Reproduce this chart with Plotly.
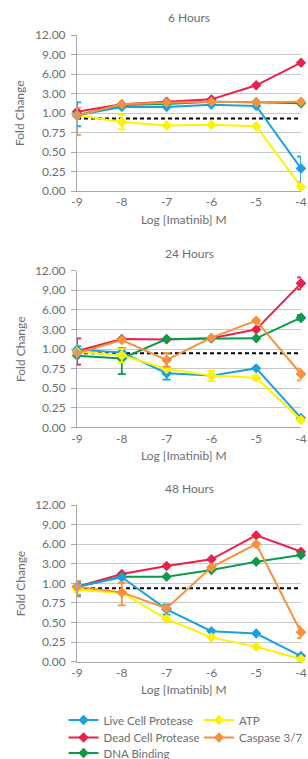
import numpy as np
import plotly.graph_objects as go

# ---------------- data ----------------
doses = [-9, -8, -7, -6, -5, -4]
panel_titles = ["6 Hours", "24 Hours", "48 Hours"]
series_names = ["Live Cell Protease", "Dead Cell Protease", "DNA Binding", "ATP", "Caspase 3/7"]
series_colors = ["#1ba1dd", "#e8204a", "#0e9a48", "#fff200", "#f7913d"]

tick_values = [0, 0.25, 0.5, 0.75, 1, 3, 6, 9, 12]
tick_labels = ["0.00", "0.25", "0.50", "0.75", "1.00", "3.00", "6.00", "9.00", "12.00"]

# 6 hours
h6_live = [0.97, 1.62, 1.62, 1.85, 1.72, 0.29]
h6_dead = [1.14, 1.89, 2.16, 2.40, 4.26, 7.74]
h6_dna = [0.97, 1.82, 1.92, 2.16, 2.10, 2.00]
h6_atp = [0.97, 0.885, 0.84, 0.85, 0.83, 0.055]
h6_casp = [0.965, 1.89, 2.06, 2.16, 2.10, 2.16]
h6_live_lo = [0.83, None, None, None, None, 0.11]
h6_live_hi = [2.10, None, None, None, None, 0.44]
h6_atp_lo = [None, 0.79, None, None, None, None]
h6_atp_hi = [None, 0.975, None, None, None, None]
h6_casp_lo = [0.72, None, None, None, None, None]
h6_casp_hi = [1.52, None, None, None, None, None]

# 24 hours
h24_live = [0.99, 0.957, 0.69, 0.66, 0.753, 0.12]
h24_dead = [0.975, 2.02, 1.98, 2.09, 3.0, 10.06]
h24_dna = [0.915, 0.88, 2.02, 2.09, 2.09, 4.8]
h24_atp = [0.966, 0.92, 0.745, 0.66, 0.634, 0.094]
h24_casp = [0.945, 1.92, 0.86, 2.16, 4.35, 0.68]
h24_live_lo = [0.91, 0.88, 0.61, None, None, None]
h24_live_hi = [1.30, 1.06, 0.753, None, None, None]
h24_dead_lo = [0.80, None, None, None, None, 9.19]
h24_dead_hi = [2.09, None, None, None, None, 10.97]
h24_dna_lo = [None, 0.68, None, None, None, 4.45]
h24_dna_hi = [None, 1.06, None, None, None, 5.2]
h24_atp_lo = [None, 0.83, None, 0.59, None, None]
h24_atp_hi = [None, 1.02, None, 0.72, None, None]
h24_casp_lo = [None, None, 0.775, None, None, 0.60]
h24_casp_hi = [None, None, 0.95, None, None, 0.75]

# 48 hours
h48_live = [0.957, 1.62, 0.668, 0.39, 0.36, 0.072]
h48_dead = [0.957, 1.95, 2.77, 3.68, 7.35, 4.85]
h48_dna = [0.957, 1.68, 1.68, 2.36, 3.3, 4.35]
h48_atp = [0.915, 0.88, 0.545, 0.31, 0.19, 0.034]
h48_casp = [0.957, 0.885, 0.68, 2.64, 6.03, 0.375]
h48_live_lo = [0.85, None, 0.60, None, None, None]
h48_live_hi = [1.05, None, 0.73, None, None, None]
h48_casp_lo = [0.83, 0.72, None, None, None, 0.30]
h48_casp_hi = [1.24, 1.06, None, None, None, 0.45]

baselines = [0.93, 0.945, 0.936]

# ---------------- helpers ----------------
tick_pos = list(range(len(tick_values)))


def to_axis(v):
    """Map fold-change values onto the chart's piecewise (equal-spaced tick) scale."""
    return np.interp(np.asarray(v, dtype=float), tick_values, tick_pos)


panels = [
    ([h6_live, h6_dead, h6_dna, h6_atp, h6_casp],
     [(h6_live_lo, h6_live_hi), None, None, (h6_atp_lo, h6_atp_hi), (h6_casp_lo, h6_casp_hi)]),
    ([h24_live, h24_dead, h24_dna, h24_atp, h24_casp],
     [(h24_live_lo, h24_live_hi), (h24_dead_lo, h24_dead_hi), (h24_dna_lo, h24_dna_hi),
      (h24_atp_lo, h24_atp_hi), (h24_casp_lo, h24_casp_hi)]),
    ([h48_live, h48_dead, h48_dna, h48_atp, h48_casp],
     [(h48_live_lo, h48_live_hi), None, None, None, (h48_casp_lo, h48_casp_hi)]),
]

# drawing order (bottom -> top)
draw_order = [1, 2, 0, 3, 4]
# one legend box per entry: col 1 = Live, Dead, DNA ; col 2 = ATP, Caspase
legend_ids = ["legend", "legend2", "legend3", "legend4", "legend5"]

W, H = 308, 759
domains = [
    [1 - 191 / H, 1 - 35 / H],
    [1 - 427.3 / H, 1 - 270.7 / H],
    [1 - 661.7 / H, 1 - 505 / H],
]
legend_xy = [(-0.06, 720), (-0.06, 737.5), (-0.06, 753), (0.545, 720), (0.545, 737.5)]

FONT = "Lato"
GRAY = "#6d6e71"

fig = go.Figure()

for p, (vals, errs) in enumerate(panels):
    xa = "x" if p == 0 else f"x{p + 1}"
    ya = "y" if p == 0 else f"y{p + 1}"
    # dotted baseline
    fig.add_trace(go.Scatter(
        x=[doses[0], doses[-1]], y=to_axis([baselines[p]] * 2),
        mode="lines", line=dict(color="black", width=2, dash="4px,3px"),
        showlegend=False, hoverinfo="skip", xaxis=xa, yaxis=ya))
    for i in draw_order:
        yv = to_axis(vals[i])
        fig.add_trace(go.Scatter(
            x=doses, y=yv, mode="lines+markers", name=series_names[i],
            line=dict(color=series_colors[i], width=2),
            marker=dict(symbol="diamond", size=8, color=series_colors[i]),
            showlegend=(p == 0), legend=legend_ids[i],
            cliponaxis=False, xaxis=xa, yaxis=ya))
        if errs[i] is not None:
            lo, hi = errs[i]
            ex, ey, eplus, eminus = [], [], [], []
            for k, (l, h) in enumerate(zip(lo, hi)):
                if l is None:
                    continue
                c = float(to_axis(vals[i][k]))
                ex.append(doses[k])
                ey.append(c)
                eplus.append(float(to_axis(h)) - c)
                eminus.append(c - float(to_axis(l)))
            fig.add_trace(go.Scatter(
                x=ex, y=ey, mode="markers",
                marker=dict(symbol="diamond", size=8, color=series_colors[i]),
                error_y=dict(type="data", symmetric=False, array=eplus, arrayminus=eminus,
                             color=series_colors[i], thickness=1.8, width=4),
                showlegend=False, hoverinfo="skip", cliponaxis=False,
                xaxis=xa, yaxis=ya))

axis_font = dict(family=FONT, size=12, color=GRAY)
layout = dict(
    width=W, height=H,
    margin=dict(l=77, r=7, t=0, b=0, autoexpand=False),
    paper_bgcolor="white", plot_bgcolor="white",
    font=dict(family=FONT, size=12, color=GRAY),
    showlegend=True,
)
for lid, (lx, ly) in zip(legend_ids, legend_xy):
    layout[lid] = dict(orientation="v", x=lx, xanchor="left", y=1 - ly / H, yanchor="middle",
                       itemwidth=30, font=dict(family=FONT, size=11.5, color=GRAY),
                       bgcolor="rgba(0,0,0,0)", borderwidth=0)

annotations = []
for p in range(3):
    sfx = "" if p == 0 else str(p + 1)
    layout["xaxis" + sfx] = dict(
        domain=[0, 1], range=[-9, -4], tickvals=doses, ticktext=[str(d) for d in doses],
        showgrid=False, zeroline=False, showline=True, linecolor="#a7a9ac", linewidth=1,
        ticks="", tickfont=axis_font, anchor="y" + sfx, fixedrange=True, automargin=False)
    layout["yaxis" + sfx] = dict(
        domain=domains[p], range=[0, 8], tickvals=tick_pos, ticktext=tick_labels,
        showgrid=True, gridcolor="#c8c9cb", gridwidth=1, zeroline=False,
        showline=True, linecolor="#a7a9ac", linewidth=1,
        ticks="outside", ticklen=5, tickcolor="#a7a9ac", tickwidth=1,
        ticklabelstandoff=3, tickfont=axis_font, anchor="x" + sfx, fixedrange=True,
        automargin=False)
    top = domains[p][1]
    bot = domains[p][0]
    annotations.append(dict(text=panel_titles[p], xref="paper", yref="paper", x=0.5,
                            y=top + 17 / H, xanchor="center", yanchor="middle",
                            showarrow=False, font=dict(family=FONT, size=12, color=GRAY)))
    annotations.append(dict(text="Log [Imatinib] M", xref="paper", yref="paper", x=0.478,
                            y=bot - 28 / H, xanchor="center", yanchor="middle",
                            showarrow=False, font=dict(family=FONT, size=12, color=GRAY)))
    annotations.append(dict(text="Fold Change", xref="paper", yref="paper", x=-57 / 224,
                            y=(top + bot) / 2, xanchor="center", yanchor="middle",
                            textangle=-90, showarrow=False,
                            font=dict(family=FONT, size=12, color=GRAY)))
layout["annotations"] = annotations

fig.update_layout(**layout)
fig.write_html("out.html", config={"displayModeBar": False},
               post_script="document.body.style.margin='0';")
